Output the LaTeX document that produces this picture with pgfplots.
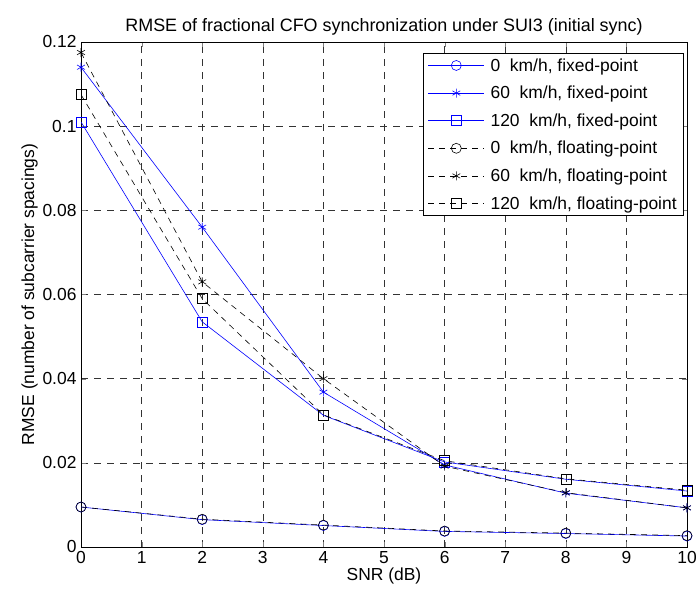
\documentclass[border=0pt]{standalone}
\usepackage{pgfplots}
\pgfplotsset{compat=1.18}
\usepackage{fontspec}
\setmainfont{Liberation Sans}
\begin{document}
\begin{tikzpicture}[x=1bp,y=1bp]
\begin{axis}[
  at={(81bp,57bp)}, anchor=south west,
  scale only axis, width=606bp, height=505bp,
  xmin=0, xmax=10, ymin=0, ymax=0.12,
  xtick={0,1,...,10},
  ytick={0,0.02,0.04,0.06,0.08,0.1,0.12},
  yticklabels={0,0.02,0.04,0.06,0.08,0.1,0.12},
  /pgf/number format/assume math mode=true,
  scaled y ticks=false,
  tick label style={font=\fontsize{17.5}{19}\selectfont},
  xticklabel style={yshift=-1bp},
  yticklabel style={xshift=-1bp},
  label style={font=\fontsize{17.5}{20}\selectfont},
  title style={font=\fontsize{18}{20}\selectfont, yshift=-3bp},
  title={RMSE of fractional CFO synchronization under SUI3 (initial sync)},
  xlabel={SNR (dB)}, ylabel={RMSE (number of subcarrier spacings)},
  xlabel style={yshift=3bp}, ylabel style={yshift=-2bp},
  grid=major,
  major grid style={black!80, dash pattern=on 7bp off 6bp, line width=0.6bp},
  tick align=inside, major tick length=5bp,
  axis line style={black, line width=0.7bp},
  legend style={font=\fontsize{17.5}{19}\selectfont, draw=black, line width=0.6bp, fill=white, at={(0.995,0.978)}, anchor=north east, row sep=9.5bp, column sep=4bp, inner xsep=5bp, inner ysep=3bp, cells={anchor=west}},
  legend cell align=left,
  legend image code/.code={\path[draw=none,fill=none] (0bp,-5bp) rectangle (56bp,5bp); \draw[mark repeat=2,mark phase=2] plot coordinates {(0bp,0bp) (28bp,0bp) (56bp,0bp)};},
  every axis plot/.append style={line width=0.6bp},
]
\addplot[blue, mark=o, mark size=5bp] coordinates {(0,0.0095)(2,0.0065)(4,0.0051)(6,0.0037)(8,0.0032)(10,0.0026)};
\addlegendentry{0\ \ km/h, fixed-point}
\addplot[blue, mark=asterisk, mark size=4.5bp] coordinates {(0,0.114)(2,0.076)(4,0.0368)(6,0.0195)(8,0.0128)(10,0.0093)};
\addlegendentry{60\ \ km/h, fixed-point}
\addplot[blue, mark=square, mark size=5bp] coordinates {(0,0.101)(2,0.0535)(4,0.0313)(6,0.0202)(8,0.0161)(10,0.0133)};
\addlegendentry{120\ \ km/h, fixed-point}
\addplot[black, dash pattern=on 6bp off 5bp, mark=o, mark size=5bp, mark options={solid}] coordinates {(0,0.0095)(2,0.0066)(4,0.0052)(6,0.0038)(8,0.0033)(10,0.0027)};
\addlegendentry{0\ \ km/h, floating-point}
\addplot[black, dash pattern=on 6bp off 5bp, mark=asterisk, mark size=4.5bp, mark options={solid}] coordinates {(0,0.1175)(2,0.063)(4,0.040)(6,0.0192)(8,0.0129)(10,0.0093)};
\addlegendentry{60\ \ km/h, floating-point}
\addplot[black, dash pattern=on 6bp off 5bp, mark=square, mark size=5bp, mark options={solid}] coordinates {(0,0.1075)(2,0.059)(4,0.0314)(6,0.0205)(8,0.0162)(10,0.0135)};
\addlegendentry{120\ \ km/h, floating-point}
\end{axis}
\pgfresetboundingbox
\path[use as bounding box] (0,0) rectangle (697,604);
\end{tikzpicture}
\end{document}
